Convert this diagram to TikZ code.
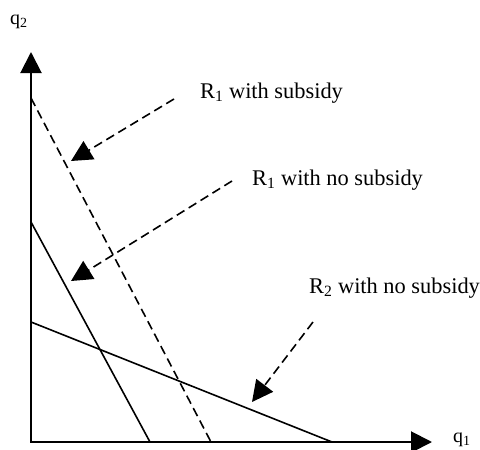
\documentclass[tikz,border=0pt]{standalone}
\usepackage{fontspec}
\setmainfont{Liberation Serif}
\usetikzlibrary{arrows.meta}
\begin{document}
\begin{tikzpicture}[x=1pt,y=-1pt,
  lbl/.style={anchor=base west, inner sep=0pt, font=\fontsize{22.4}{26}\selectfont},
  axislbl/.style={anchor=base west, inner sep=0pt, font=\fontsize{20}{24}\selectfont},
  axis/.style={line width=2pt, -{Triangle[length=21pt,width=21pt]}},
  curve/.style={line width=1.6pt},
  dcurve/.style={line width=1.6pt, dash pattern=on 9pt off 5pt},
  pointer/.style={line width=1.6pt, dash pattern=on 9pt off 5pt, -{Triangle[length=21pt,width=21pt]}}]
\useasboundingbox (0,0) rectangle (480,450);
% axes
\coordinate (O) at (31,442);
\coordinate (ytip) at (31,52);
\coordinate (xtip) at (432,442);
\draw[axis] (O) -- (ytip);
\draw[axis] (30,442) -- (xtip);
\node[axislbl] (q2) at (10,24) {q\textsubscript{2}};
\node[axislbl] (q1) at (453,442) {q\textsubscript{1}};
% lines
\coordinate (r1a) at (31,222);
\coordinate (r1b) at (150,442);
\coordinate (r2a) at (31,322);
\coordinate (r2b) at (332,442);
\coordinate (sa) at (31,98);
\coordinate (sb) at (211,442);
\draw[curve] (r1a) -- (r1b);
\draw[curve] (r2a) -- (r2b);
\draw[dcurve] (sa) -- (sb);
% labels
\node[lbl] (L1) at (200,98) {R\textsubscript{1} with subsidy};
\node[lbl] (L2) at (252,185) {R\textsubscript{1} with no subsidy};
\node[lbl] (L3) at (309,293) {R\textsubscript{2} with no subsidy};
% pointers
\coordinate (p1s) at (174,99);
\coordinate (p1t) at (71,161);
\coordinate (p2s) at (232,181);
\coordinate (p2t) at (71,281);
\coordinate (p3s) at (313,322);
\coordinate (p3t) at (252,402);
\draw[pointer] (p1s) -- (p1t);
\draw[pointer] (p2s) -- (p2t);
\draw[pointer] (p3s) -- (p3t);
\end{tikzpicture}
\end{document}
